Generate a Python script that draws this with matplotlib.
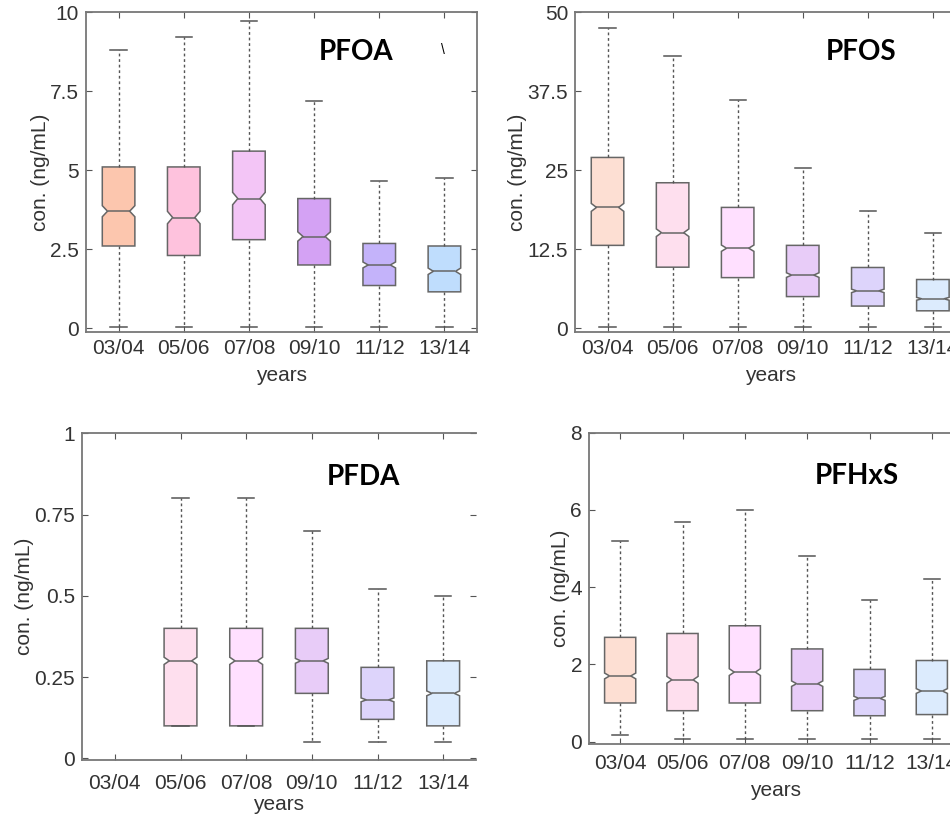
import matplotlib
matplotlib.use('Agg')
import matplotlib.pyplot as plt
from matplotlib.path import Path

plt.rcParams['font.family'] = ['Liberation Sans', 'DejaVu Sans']

years = ['03/04', '05/06', '07/08', '09/10', '11/12', '13/14']

# ---- PFOA ----
pfoa_low = [0.05, 0.05, 0.05, 0.05, 0.05, 0.05]
pfoa_q1 = [2.6, 2.3, 2.8, 2.0, 1.35, 1.15]
pfoa_med = [3.7, 3.5, 4.1, 2.9, 2.0, 1.8]
pfoa_q3 = [5.1, 5.1, 5.6, 4.1, 2.68, 2.6]
pfoa_high = [8.8, 9.2, 9.7, 7.2, 4.65, 4.75]

# ---- PFOS ----
pfos_low = [0.2, 0.2, 0.2, 0.2, 0.2, 0.15]
pfos_q1 = [13.1, 9.65, 8.0, 5.0, 3.5, 2.75]
pfos_med = [19.1, 15.1, 12.65, 8.4, 5.9, 4.65]
pfos_q3 = [27.0, 23.0, 19.1, 13.1, 9.6, 7.7]
pfos_high = [47.4, 43.0, 36.1, 25.4, 18.6, 15.1]

# ---- PFDA (no data for 03/04) ----
pfda_low = [None, 0.1, 0.1, 0.05, 0.05, 0.05]
pfda_q1 = [None, 0.1, 0.1, 0.2, 0.12, 0.1]
pfda_med = [None, 0.3, 0.3, 0.3, 0.18, 0.2]
pfda_q3 = [None, 0.4, 0.4, 0.4, 0.28, 0.3]
pfda_high = [None, 0.8, 0.8, 0.7, 0.52, 0.5]

# ---- PFHxS ----
pfhxs_low = [0.16, 0.06, 0.06, 0.06, 0.06, 0.06]
pfhxs_q1 = [1.0, 0.8, 1.0, 0.8, 0.67, 0.7]
pfhxs_med = [1.7, 1.6, 1.8, 1.5, 1.12, 1.31]
pfhxs_q3 = [2.7, 2.8, 3.0, 2.4, 1.87, 2.1]
pfhxs_high = [5.2, 5.7, 6.0, 4.8, 3.67, 4.2]

colors_strong = ['#FCC6AE', '#FEC2DD', '#F3C5F6', '#D4A2F4', '#C4B3FA', '#BFDDFD']
colors_light = ['#FDDFD3', '#FEDFEE', '#FFE0FF', '#E8CCF8', '#DDD4FB', '#DCEBFD']

panels = [
    dict(name='PFOA', low=pfoa_low, q1=pfoa_q1, med=pfoa_med, q3=pfoa_q3, high=pfoa_high,
         rect=[86/950, 1-332/817, 391/950, 320/817], ylim=(-0.12, 10),
         yticks=[0, 2.5, 5, 7.5, 10], yticklabels=['0', '2.5', '5', '7.5', '10'],
         colors=colors_strong, notch=0.07, label_xy=(356, 52), right_spine=True,
         xpad=5, xlpad=6),
    dict(name='PFOS', low=pfos_low, q1=pfos_q1, med=pfos_med, q3=pfos_q3, high=pfos_high,
         rect=[575/950, 1-332/817, 390.4/950, 320/817], ylim=(-0.6, 50),
         yticks=[0, 12.5, 25, 37.5, 50], yticklabels=['0', '12.5', '25', '37.5', '50'],
         colors=colors_light, notch=0.045, label_xy=(861, 52), right_spine=True,
         xpad=5, xlpad=6),
    dict(name='PFDA', low=pfda_low, q1=pfda_q1, med=pfda_med, q3=pfda_q3, high=pfda_high,
         rect=[82/950, 1-760/817, 394/950, 326.7/817], ylim=(-0.005, 1),
         yticks=[0, 0.25, 0.5, 0.75, 1], yticklabels=['0', '0.25', '0.5', '0.75', '1'],
         colors=colors_light, notch=0.037, label_xy=(363, 477), right_spine=False,
         xpad=10, xlpad=1.5),
    dict(name='PFHxS', low=pfhxs_low, q1=pfhxs_q1, med=pfhxs_med, q3=pfhxs_q3, high=pfhxs_high,
         rect=[589/950, 1-744.3/817, 374/950, 311.6/817], ylim=(-0.07, 8),
         yticks=[0, 2, 4, 6, 8], yticklabels=['0', '2', '4', '6', '8'],
         colors=colors_light, notch=0.044, label_xy=(857, 476), right_spine=True,
         xpad=7, xlpad=6),
]

edge = '#666666'
W = 0.5          # box width
NARROW = 0.17    # half width at the notch

fig = plt.figure(figsize=(9.5, 8.17), dpi=100)

for p in panels:
    ax = fig.add_axes(p['rect'])
    stats, pos, cols = [], [], []
    for i in range(len(years)):
        if p['med'][i] is None:
            continue
        iqr = p['q3'][i] - p['q1'][i]
        stats.append(dict(med=p['med'][i], q1=p['q1'][i], q3=p['q3'][i],
                          whislo=p['low'][i], whishi=p['high'][i],
                          cilo=p['med'][i] - p['notch'] * iqr,
                          cihi=p['med'][i] + p['notch'] * iqr,
                          fliers=[]))
        pos.append(i + 1)
        cols.append(p['colors'][i])
    res = ax.bxp(stats, positions=pos, widths=W, capwidths=0.25, shownotches=True,
                 patch_artist=True, showfliers=False,
                 boxprops=dict(edgecolor=edge, linewidth=1.1),
                 medianprops=dict(color=edge, linewidth=1.1),
                 whiskerprops=dict(color='#555555', linewidth=1.0, linestyle=(0, (2, 2))),
                 capprops=dict(color='#555555', linewidth=1.1))
    for box, c, x0, s, mline in zip(res['boxes'], cols, pos, stats, res['medians']):
        box.set_facecolor(c)
        v = box.get_path().vertices.copy()
        for k in range(len(v)):
            if abs(v[k, 1] - s['med']) < 1e-12 and abs(abs(v[k, 0] - x0) - W / 2) > 1e-9:
                v[k, 0] = x0 + NARROW if v[k, 0] > x0 else x0 - NARROW
        box.set_path(Path(v, box.get_path().codes))
        mline.set_xdata([x0 - NARROW, x0 + NARROW])

    ax.set_xlim(0.5, 6.5)
    ax.set_ylim(*p['ylim'])
    ax.set_xticks(range(1, 7))
    ax.set_xticklabels(years)
    ax.set_yticks(p['yticks'])
    ax.set_yticklabels(p['yticklabels'])
    ax.tick_params(direction='in', length=4, width=0.8, color='#555555',
                   labelsize=15, labelcolor='#333333', top=True, right=True)
    ax.tick_params(axis='x', pad=p['xpad'])
    ax.tick_params(axis='y', pad=5)
    for sp in ax.spines.values():
        sp.set_color('#777777')
        sp.set_linewidth(1.3)
    if not p['right_spine']:
        ax.spines['right'].set_visible(False)
    ax.set_ylabel('con. (ng/mL)', fontsize=15, color='#333333', labelpad=0)
    ax.set_xlabel('years', fontsize=15, color='#333333', labelpad=p['xlpad'])
    lx, ly = p['label_xy']
    fig.text(lx / 950, 1 - ly / 817, p['name'], fontsize=20, fontweight='bold',
             family=['Lato', 'DejaVu Sans'], ha='center', va='center', color='black')

# small stray mark visible next to the PFOA label in the reference
fig.text(443 / 950, 1 - 50 / 817, '\\', fontsize=10, ha='center', va='center', color='black')

fig.savefig('out.png', dpi=100)
